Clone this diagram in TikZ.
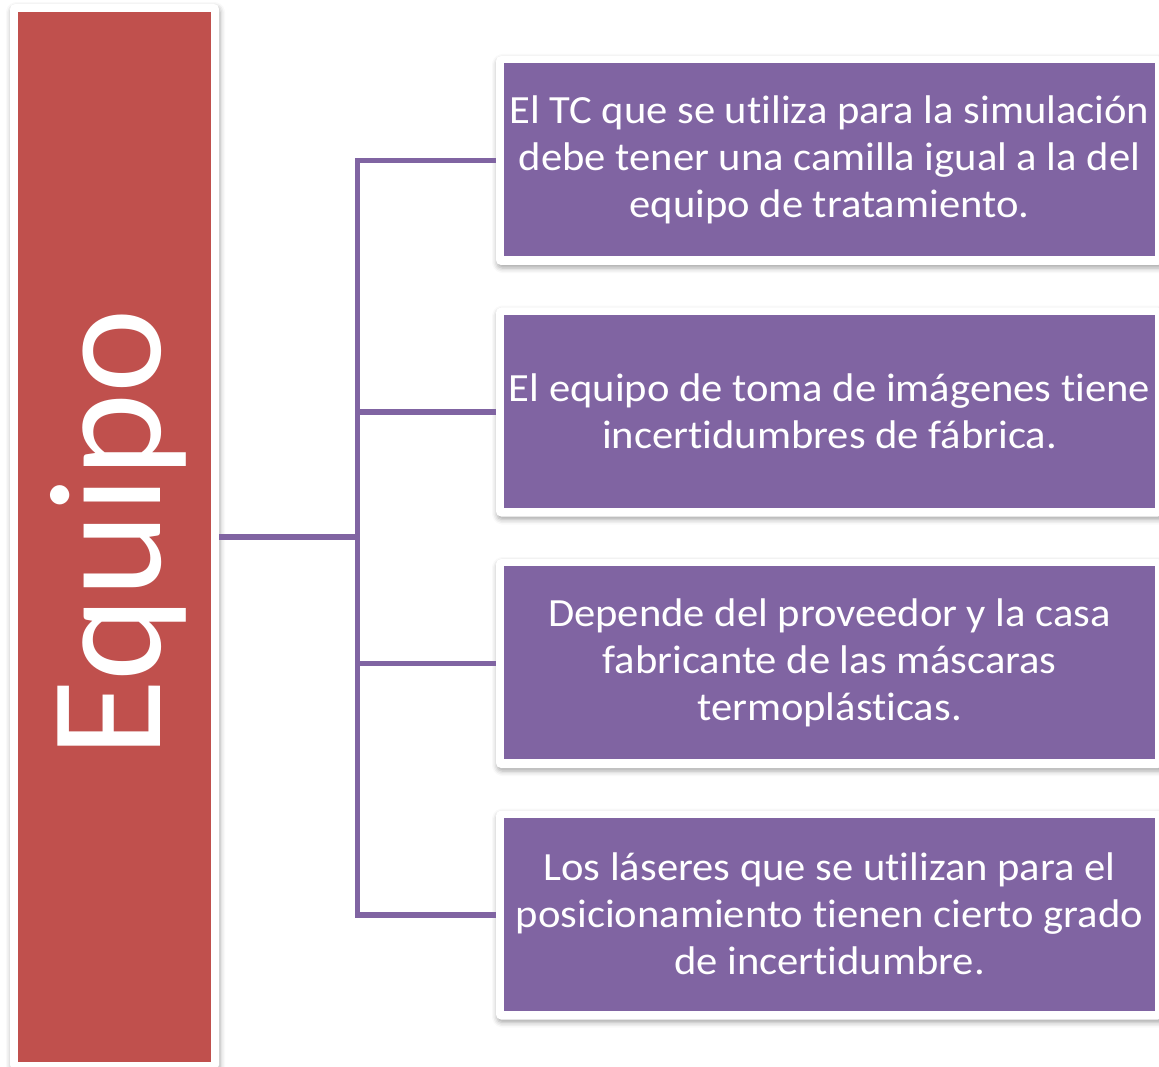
\documentclass[tikz,border=0pt]{standalone}
\usepackage{fontspec}
\setmainfont[Ligatures=NoCommon]{Carlito}
\usetikzlibrary{shadows.blur}
\definecolor{redfill}{HTML}{C0504D}
\definecolor{purplefill}{HTML}{8064A2}
\tikzset{
  frame/.style={draw=none, fill=white, rounded corners=5pt, inner sep=0pt,
    blur shadow={shadow xshift=1pt, shadow yshift=-3pt, shadow blur radius=5pt, shadow opacity=35}},
  redbox/.style={fill=redfill, draw=none, inner sep=0pt, minimum width=193pt, minimum height=1050pt},
  purplebox/.style={fill=purplefill, draw=none, inner sep=0pt, minimum width=651pt, minimum height=193pt,
    text=white, align=center, font=\addfontfeature{FakeStretch=1.065}\fontsize{40}{47}\selectfont},
  pframe/.style={frame, minimum width=667pt, minimum height=209pt},
  conn/.style={draw=purplefill, line width=5.5pt},
  bigtext/.style={text=white, font=\fontsize{160}{160}\selectfont, rotate=90, anchor=base, inner sep=0pt}
}
\begin{document}
\begin{tikzpicture}[x=1pt,y=-1pt]
\useasboundingbox (0,0) rectangle (1159,1067);
% left
\node[frame, minimum width=209pt, minimum height=1066pt] (eqf) at (114.5,537) {};
\node[redbox] (eq) at (114.5,537) {};
\node[bigtext] (eqt) at (160,533) {Equipo};
% right boxes
\node[pframe] (f1) at (829.5,160.5) {};
\node[purplebox] (b1) at (829.5,159.5) {El TC que se utiliza para la simulación\\debe tener una camilla igual a la del\\equipo de tratamiento.};
\node[pframe] (f2) at (829.5,412) {};
\node[purplebox] (b2) at (829.5,411) {El equipo de toma de imágenes tiene\\incertidumbres de fábrica.};
\node[pframe] (f3) at (829.5,663.5) {};
\node[purplebox] (b3) at (829.5,662.5) {Depende del proveedor y la casa\\fabricante de las máscaras\\termoplásticas.};
\node[pframe] (f4) at (829.5,915) {};
\node[purplebox] (b4) at (829.5,914) {Los láseres que se utilizan para el\\posicionamiento tienen cierto grado\\de incertidumbre.};
% connectors
\coordinate (hub) at (357.5,537);
\draw[conn] (eqf.east) -- (hub);
\draw[conn] (hub) |- (f1.west);
\draw[conn] (hub) |- (f2.west);
\draw[conn] (hub) |- (f3.west);
\draw[conn] (hub) |- (f4.west);
\end{tikzpicture}
\end{document}
